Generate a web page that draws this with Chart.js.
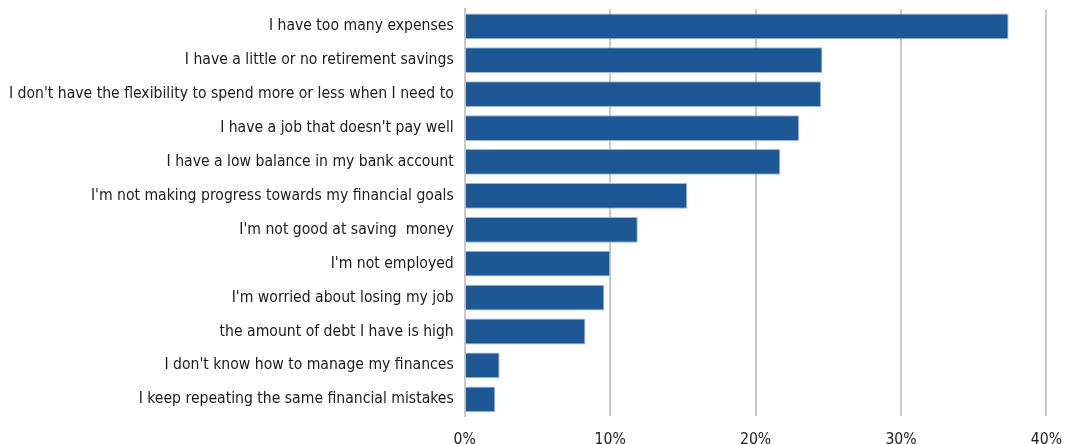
<!DOCTYPE html>
<html>
<head>
<meta charset="utf-8">
<script src="https://cdn.jsdelivr.net/npm/chart.js@4"></script>
<style>
  html, body { margin: 0; padding: 0; background: #fff; overflow: hidden; }
  #wrap { width: 1076px; height: 474px; margin-top: -11px; }
</style>
</head>
<body>
<div id="wrap"><canvas id="barChart"></canvas></div>
<script>
const categories = [
    "I have too many expenses",
    "I have a little or no retirement savings",
    "I don't have the flexibility to spend more or less when I need to",
    "I have a job that doesn't pay well",
    "I have a low balance in my bank account",
    "I'm not making progress towards my financial goals",
    "I'm not good at saving  money",
    "I'm not employed",
    "I'm worried about losing my job",
    "the amount of debt I have is high",
    "I don't know how to manage my finances",
    "I keep repeating the same financial mistakes"
];
const shares = [37.4, 24.6, 24.5, 23.0, 21.7, 15.3, 11.9, 10.0, 9.6, 8.3, 2.4, 2.1];
const tickValues = [0, 10, 20, 30, 40];

const labelFont = { family: "'DejaVu Sans Condensed', sans-serif", size: 15.6 };

const ctx = document.getElementById('barChart').getContext('2d');
new Chart(ctx, {
    type: 'bar',
    data: {
        labels: categories,
        datasets: [{
            data: shares,
            backgroundColor: '#1d5795',
            borderColor: '#9db8d8',
            borderWidth: 1,
            categoryPercentage: 1.0,
            barPercentage: 0.76
        }]
    },
    options: {
        indexAxis: 'y',
        responsive: true,
        maintainAspectRatio: false,
        animation: false,
        layout: { padding: { top: 0, right: 8, left: -2, bottom: 0 } },
        plugins: {
            legend: { display: false },
            tooltip: { enabled: false }
        },
        scales: {
            x: {
                min: 0,
                max: 40,
                afterBuildTicks: axis => { axis.ticks = tickValues.map(v => ({ value: v })); },
                grid: { color: '#c8c8c8', lineWidth: 2, drawTicks: false },
                border: { display: false },
                ticks: {
                    color: '#1a1a1a',
                    font: labelFont,
                    padding: 14,
                    callback: v => v + '%'
                }
            },
            y: {
                grid: { display: false, drawTicks: false },
                border: { display: true, color: '#c8c8c8', width: 2 },
                ticks: {
                    color: '#1a1a1a',
                    font: labelFont,
                    padding: 11,
                    autoSkip: false
                }
            }
        }
    }
});
</script>
</body>
</html>
